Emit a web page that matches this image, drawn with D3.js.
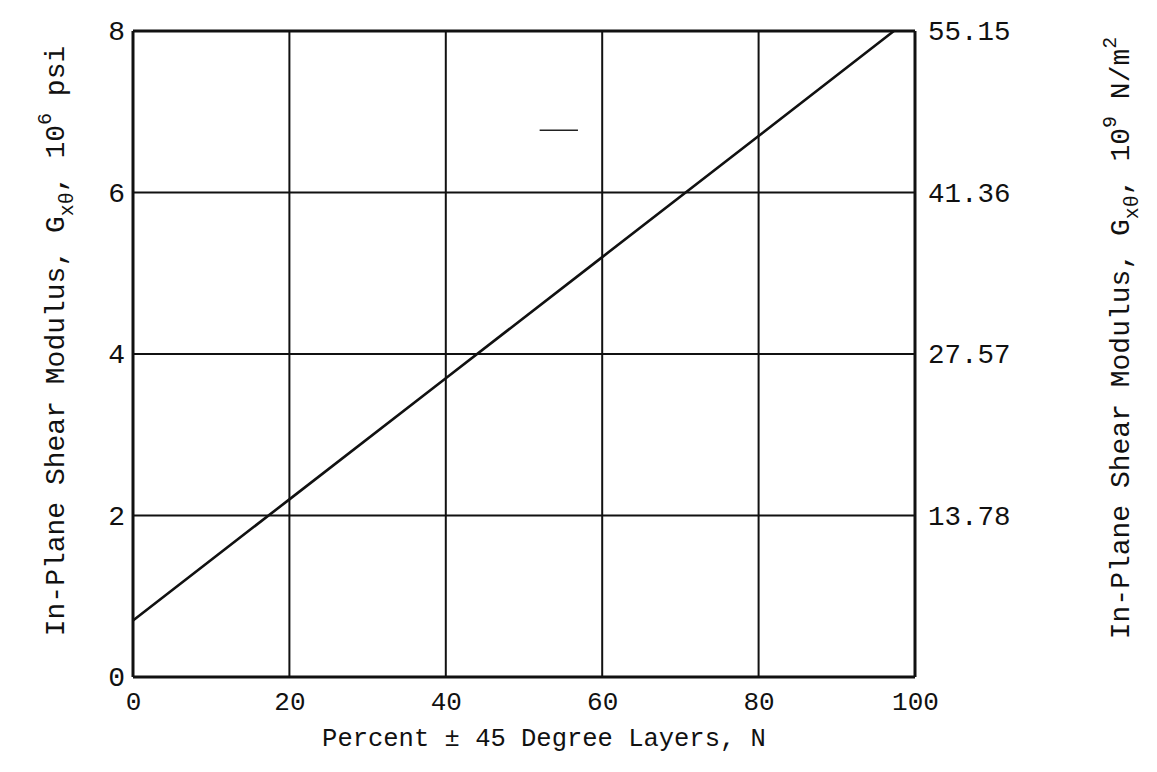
<!DOCTYPE html>
<html>
<head>
<meta charset="utf-8">
<script src="https://cdn.jsdelivr.net/npm/d3@7"></script>
<style>
  body { margin: 0; background: #fff; }
  text { font-family: "Liberation Mono", "DejaVu Sans Mono", monospace; fill: #111; }
</style>
</head>
<body>
<div id="chart"></div>
<script>
// values
var xTicks = [0, 20, 40, 60, 80, 100];
var yTicks = [0, 2, 4, 6, 8];
var yTicksSI = ["", "13.78", "27.57", "41.36", "55.15"];
var lineN = [0, 20, 40, 60, 80, 97.3];
var lineG = [0.7, 2.2, 3.7, 5.2, 6.7, 8];
// stray dash on the scan
var dashN = [52, 56.9];
var dashG = [6.77, 6.77];

var width = 1157, height = 772;
var margin = {left: 133, right: 242, top: 31, bottom: 95};

var svg = d3.select("div#chart")
  .append("svg")
  .attr("width", width)
  .attr("height", height);

var xScale = d3.scaleLinear().domain([0, 100]).range([margin.left, width - margin.right]);
var yScale = d3.scaleLinear().domain([0, 8]).range([height - margin.bottom, margin.top]);

var g = svg.append("g");

// grid
g.selectAll(".vgrid")
  .data(xTicks)
  .enter().append("line")
  .attr("x1", d => xScale(d)).attr("x2", d => xScale(d))
  .attr("y1", yScale(0)).attr("y2", yScale(8))
  .attr("stroke", "#111")
  .attr("stroke-width", d => (d == 0 || d == 100) ? 3 : 2);

g.selectAll(".hgrid")
  .data(yTicks)
  .enter().append("line")
  .attr("x1", xScale(0)).attr("x2", xScale(100))
  .attr("y1", d => yScale(d)).attr("y2", d => yScale(d))
  .attr("stroke", "#111")
  .attr("stroke-width", d => (d == 0 || d == 8) ? 3 : 2);

// axes (labels only, lines are the grid)
var xAxis = d3.axisBottom(xScale).tickValues(xTicks).tickSize(0).tickPadding(13);
var yAxis = d3.axisLeft(yScale).tickValues(yTicks).tickSize(0).tickPadding(8);
var yAxisR = d3.axisRight(yScale).tickValues(yTicks).tickSize(0).tickPadding(13)
  .tickFormat((d, i) => yTicksSI[i]);

g.append("g").attr("transform", "translate(0," + yScale(0) + ")").call(xAxis)
  .call(a => a.select(".domain").remove())
  .selectAll("text").style("font-size", "26px").attr("dy", "0.75em");
g.append("g").attr("transform", "translate(" + xScale(0) + ",0)").call(yAxis)
  .call(a => a.select(".domain").remove())
  .selectAll("text").style("font-size", "28px");
g.append("g").attr("transform", "translate(" + xScale(100) + ",0)").call(yAxisR)
  .call(a => a.select(".domain").remove())
  .selectAll("text").style("font-size", "27.5px");
svg.selectAll(".tick text").attr("fill", "#111");

// the curve
var pts = lineN.map((n, i) => [n, lineG[i]]);
var line = d3.line().x(d => xScale(d[0])).y(d => yScale(d[1]));
g.append("path")
  .datum(pts)
  .attr("d", line)
  .attr("fill", "none")
  .attr("stroke", "#111")
  .attr("stroke-width", 2.6);

g.append("path")
  .datum(dashN.map((n, i) => [n, dashG[i]]))
  .attr("d", line)
  .attr("stroke", "#222")
  .attr("stroke-width", 1.5);

// axis titles
svg.append("text")
  .attr("x", 544).attr("y", 746)
  .attr("text-anchor", "middle")
  .style("font-size", "25.5px")
  .text("Percent \u00b1 45 Degree Layers, N");

function yTitle(x, y, exp, unit) {
  var t = svg.append("text")
    .attr("transform", "translate(" + x + "," + y + ") rotate(-90)")
    .attr("text-anchor", "middle")
    .style("font-size", "28px");
  t.append("tspan").text("In-Plane Shear Modulus, G");
  t.append("tspan").attr("dy", 9).style("font-size", "20px").text("x\u03b8");
  t.append("tspan").attr("dy", -9).text(", 10");
  t.append("tspan").attr("dy", -13).style("font-size", "20px").text(exp);
  t.append("tspan").attr("dy", 13).text(" " + unit[0]);
  if (unit.length > 1) {
    t.append("tspan").attr("dy", -13).style("font-size", "20px").text(unit[1]);
  }
  return t;
}
yTitle(64, 341, "6", ["psi"]);
yTitle(1129, 338, "9", ["N/m", "2"]);
</script>
</body>
</html>
